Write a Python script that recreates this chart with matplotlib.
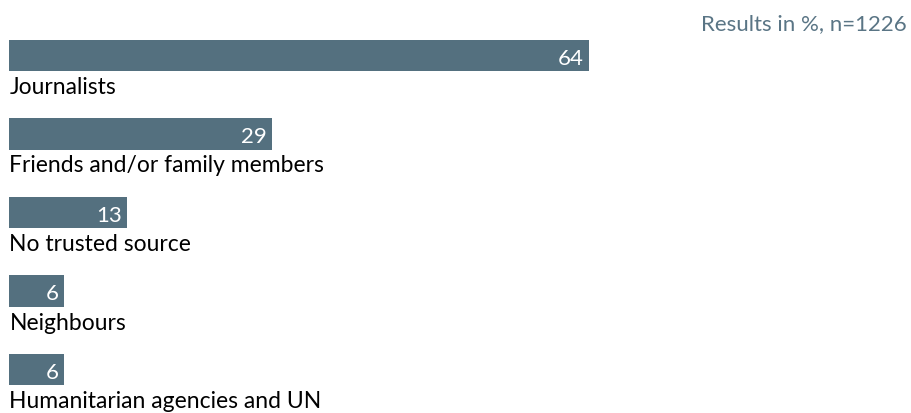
import numpy as np
import matplotlib
matplotlib.use("Agg")
import matplotlib.pyplot as plt

# survey answers, share of respondents in %
sources = ["Journalists", "Friends and/or family members", "No trusted source",
           "Neighbours", "Humanitarian agencies and UN"]
shares = [64, 29, 13, 6, 6]
note = "Results in %, n=1226"

barColor = "#54707f"
noteColor = "#5a7585"

plt.rcParams['font.family'] = ['Lato', 'DejaVu Sans']

fig = plt.figure(figsize=(9.12, 4.14), dpi=100)
# axis spans the width so that one percent is ~9 px
ax = fig.add_axes([9.5 / 912, 0, 896 / 912, 1])
ax.set_xlim(0, 99)
ax.set_ylim(4.552, -0.72)
ax.axis("off")

pos = np.arange(len(sources))
ax.barh(pos, shares, height=0.4, color=barColor, align="center")

for i in range(len(sources)):
    ax.text(shares[i] - 0.6, pos[i] + 0.03, str(shares[i]), color="white",
            fontsize=16, ha="right", va="center")
    ax.text(0, pos[i] + 0.26, sources[i], color="black",
            fontsize=16.5, ha="left", va="top")

fig.text(907 / 912, 1 - 24 / 414, note, color=noteColor, fontsize=16,
         ha="right", va="center")

fig.savefig("out.png", dpi=100)
